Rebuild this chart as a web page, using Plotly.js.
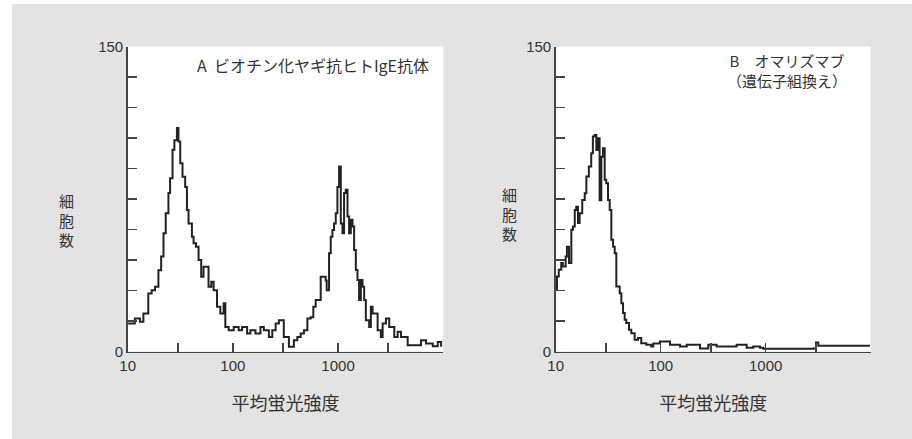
<!DOCTYPE html>
<html>
<head>
<meta charset="utf-8">
<script src="https://cdn.plot.ly/plotly-3.0.1.min.js"></script>
<style>html,body{margin:0;padding:0;background:#e3e3e3;}#chart{width:912px;height:439px;}</style>
</head>
<body>
<div id="chart"></div>
<script>
// Panel A: biotinylated goat anti-human IgE antibody
const xA = [10.1,11.7,13.1,14.1,15.7,16.9,18.2,19.6,20.8,21.9,23.0,24.4,25.3,26.7,27.8,29.4,30.4,31.6,33.2,35.2,36.6,37.9,40.8,42.3,44.6,47.2,50.0,52.6,56.7,58.7,62.4,65.6,70.7,76.0,81.7,84.8,91.2,101.8,105.6,113.6,122.4,136.6,146.8,164,183,197,220,237,255,274,305,322,341,380,410,441,474,511,549,582,613,684,735,763,780,821,852,884,916,951,986,1023,1062,1102,1141,1184,1230,1274,1322,1372,1422,1476,1531,1585,1647,1709,1771,1837,1976,2051,2129,2377,2553,2654,2851,3067,3423,3687,3964,4592,5311,6150,6866,7955,8873,9550];
const yA = [13.8,16.3,14.6,18.7,28.6,30.2,31.9,40,46.7,58.2,68,78,85.3,99.3,104,110,103.4,92.7,86,81,69.7,63,56.5,53.3,51.6,45,36.8,41.7,41.7,31.9,34.3,30.2,22,18.7,23.7,12.1,10.5,12.1,12.1,10.5,12.1,8.9,10.5,8.9,12.1,10.5,7.2,10.5,13.8,15.4,7.2,7.2,2.3,5.6,7.2,8.9,10.5,16.3,16.8,22,25.3,36.8,36.8,35,30.2,48.3,56.5,59.8,63,68,81,91,63,58.2,78,79.6,66.4,58.2,64.8,61.5,50,40.1,35.2,25.3,35.2,31.9,25.3,15.4,12.1,22,18.7,10.5,7.2,13.8,16.3,12.1,7.2,9.7,7.2,3.1,3.1,5.6,3.9,2.6,4.7,2.3,3.1];

// Panel B: omalizumab (recombinant)
const xB = [10,10.3,10.7,11.3,11.7,12.45,12.8,13.4,14.1,14.6,15.2,15.7,16.3,16.9,17.9,18.9,19.6,20.7,21.8,22.6,23.5,24.4,25.3,26.2,27.2,28.2,29.3,30.3,31.5,32.7,33.9,35.2,36.5,37.8,40.7,42.2,43.8,45.4,47,49.9,52.5,56.5,60.8,65.3,72.9,81.3,85.1,98.4,122.7,152.7,177,237,284,341,409,529,659,762,883,949,2642,2840,3013,3170,9840];
const yB = [30.3,36.9,40.2,43.5,41.8,46.7,51.6,43.5,59.9,61.5,69.7,71.3,63.2,68.1,74.6,77.9,86.1,91,97.6,105.8,106.6,99.2,105,74.4,95.8,100,84.5,82.8,74.6,69.7,55,51.6,48.4,32,28.7,23.8,18.9,15.6,14,10.7,9,5.8,6.6,4.1,3.3,2.5,4,4.9,3.3,2.5,3.3,1.5,3.3,2.5,2.5,3.3,1.8,2.5,1.8,1.3,1.3,1.5,4.4,2.8,2.8];

const xTickVals = [10,30,100,300,1000,3000,10000];
const xTickText = ['10','','100','','1000','',''];
const yTickVals = [0,15,30,45,60,75,90,105,120,135,150];
const yTickText = ['0','','','','','','','','','','150'];

const xTitle = '平均蛍光強度';
const yTitle = '細<br>胞<br>数';
const labelA = 'A  ビオチン化ヤギ抗ヒトIgE抗体';
const labelB = 'B　オマリズマブ<br>（遺伝子組換え）';

const lineStyle = {color:'#222', width:2, shape:'hv'};
const traces = [
  {x:xA, y:yA, type:'scatter', mode:'lines', line:lineStyle, xaxis:'x', yaxis:'y', hoverinfo:'skip'},
  {x:xB, y:yB, type:'scatter', mode:'lines', line:lineStyle, xaxis:'x2', yaxis:'y2', hoverinfo:'skip'}
];

const tickFont = {family:'Liberation Sans, Arial, sans-serif', size:15, color:'#333'};
const cjk = 'Noto Sans CJK JP, sans-serif';
function xAxis(domain, anchor){
  return {domain:domain, anchor:anchor, type:'log', range:[1,4], tickmode:'array',
    tickvals:xTickVals, ticktext:xTickText, ticks:'inside', ticklen:9, tickwidth:1.5,
    tickcolor:'#444', showline:true, linecolor:'#444', linewidth:1.5, showgrid:false,
    zeroline:false, tickfont:tickFont,
    title:{text:xTitle, font:{family:cjk, size:18, color:'#333'}, standoff:24}};
}
function yAxis(domain, anchor){
  return {domain:domain, anchor:anchor, range:[0,150], tickmode:'array',
    tickvals:yTickVals, ticktext:yTickText, ticks:'inside', ticklen:9, tickwidth:1.5,
    tickcolor:'#444', showline:true, linecolor:'#444', linewidth:1.5, showgrid:false,
    zeroline:false, tickfont:tickFont};
}
const yDom = [0.1993, 0.8936];
const layout = {
  width:912, height:439, showlegend:false,
  margin:{l:0,r:0,t:0,b:0},
  paper_bgcolor:'#e3e3e3', plot_bgcolor:'#ffffff',
  xaxis:xAxis([0.140,0.486],'y'), yaxis:yAxis(yDom,'x'),
  xaxis2:xAxis([0.6093,0.9547],'y2'), yaxis2:yAxis(yDom,'x2'),
  shapes:[
    {type:'rect', xref:'paper', yref:'paper', x0:0, x1:12/912, y0:0, y1:1, fillcolor:'#ffffff', line:{width:0}, layer:'below'},
    {type:'rect', xref:'paper', yref:'paper', x0:0, x1:1, y0:1-4/439, y1:1, fillcolor:'#ffffff', line:{width:0}, layer:'below'}
  ],
  annotations:[
    {text:labelA, xref:'paper', yref:'paper', x:431/912, y:1-65/439, xanchor:'right', yanchor:'middle', showarrow:false, font:{family:cjk, size:16, color:'#333'}},
    {text:labelB, xref:'paper', yref:'paper', x:787/912, y:1-71/439, xanchor:'center', yanchor:'middle', align:'center', showarrow:false, font:{family:cjk, size:15, color:'#333'}},
    {text:yTitle, xref:'paper', yref:'paper', x:66/912, y:1-220/439, xanchor:'center', yanchor:'middle', showarrow:false, font:{family:cjk, size:15, color:'#333'}},
    {text:yTitle, xref:'paper', yref:'paper', x:509/912, y:1-214/439, xanchor:'center', yanchor:'middle', showarrow:false, font:{family:cjk, size:15, color:'#333'}}
  ]
};
Plotly.newPlot('chart', traces, layout, {staticPlot:true, displayModeBar:false});
</script>
</body>
</html>
